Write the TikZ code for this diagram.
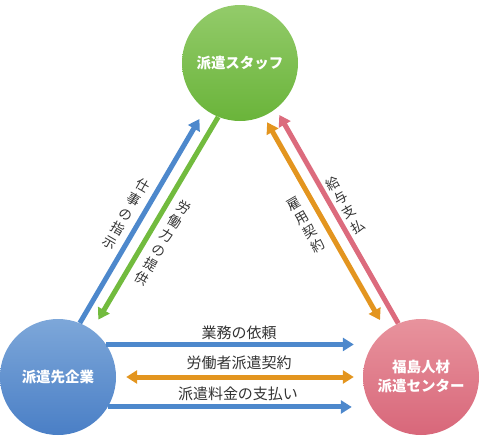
\documentclass[tikz,border=0pt]{standalone}
\usepackage{fontspec}
\newfontfamily\jpfont{Noto Sans CJK JP}
\usetikzlibrary{arrows.meta}

\definecolor{staffTop}{HTML}{93CB6A}
\definecolor{staffBot}{HTML}{6AB43A}
\definecolor{clientTop}{HTML}{7DA7D9}
\definecolor{clientBot}{HTML}{4A7FC6}
\definecolor{centerTop}{HTML}{E8939D}
\definecolor{centerBot}{HTML}{D8677A}
\definecolor{arrBlue}{HTML}{4D88CC}
\definecolor{arrGreen}{HTML}{72BB3E}
\definecolor{arrOrange}{HTML}{E3951F}
\definecolor{arrPink}{HTML}{DC6B7D}
\definecolor{txtGray}{HTML}{333333}

\begin{document}
\begin{tikzpicture}[
  x=1pt, y=-1pt,
  >={Triangle[width=13pt,length=11pt]},
  every node/.style={font=\jpfont\fontsize{15}{17}\selectfont, text=txtGray},
  party/.style={circle, minimum size=116pt, inner sep=0pt, align=center,
                text=white, font=\jpfont\bfseries\fontsize{14.5}{19}\selectfont},
  flow/.style={line width=5pt},
  vlabel/.style={align=center, inner sep=0pt, font=\jpfont\fontsize{13.5}{16.5}\selectfont}
]

\useasboundingbox (0,0) rectangle (483,437);

% the three parties
\node[party, top color=staffTop, bottom color=staffBot]   at (240,63)  (staff)  {派遣スタッフ};
\node[party, top color=clientTop, bottom color=clientBot] at (58,377)  (client) {派遣先企業};
\node[party, top color=centerTop, bottom color=centerBot] at (421,377) (center) {福島人材\\派遣センター};

% staff <-> client
\draw[flow, arrBlue, ->, shorten >=11pt]  (client.68) -- (staff.233);
\draw[flow, arrGreen, ->, shorten >=12pt] (staff.248) -- (client.54);
\node[vlabel, rotate=-30] at (126,214) (lblOrder)  {仕\\事\\の\\指\\示};
\node[vlabel, rotate=-30] at (163,243) (lblLabour) {労\\働\\力\\の\\提\\供};

% staff <-> center
\draw[flow, arrPink, ->, shorten >=7pt] (center.113) -- (staff.-52);
\draw[flow, arrOrange, <->, shorten <=7pt, shorten >=12pt] (staff.-66) -- (center.127);
\node[vlabel, rotate=30] at (306,225) (lblHire) {雇\\用\\契\\約};
\node[vlabel, rotate=30] at (345,205) (lblPay)  {給\\与\\支\\払};

% client <-> center
\draw[flow, arrBlue, ->] (client.34) -- ([xshift=-9pt]client.34 -| center.west);
\draw[flow, arrOrange, <->, shorten <=10pt, shorten >=9pt] (client) -- (center);
\draw[flow, arrBlue, ->] (client.-31) -- ([xshift=-11pt]client.-31 -| center.west);

\node at (239,333) (lblRequest)  {業務の依頼};
\node at (239,363) (lblContract) {労働者派遣契約};
\node at (238,394) (lblFee)      {派遣料金の支払い};

\end{tikzpicture}
\end{document}
